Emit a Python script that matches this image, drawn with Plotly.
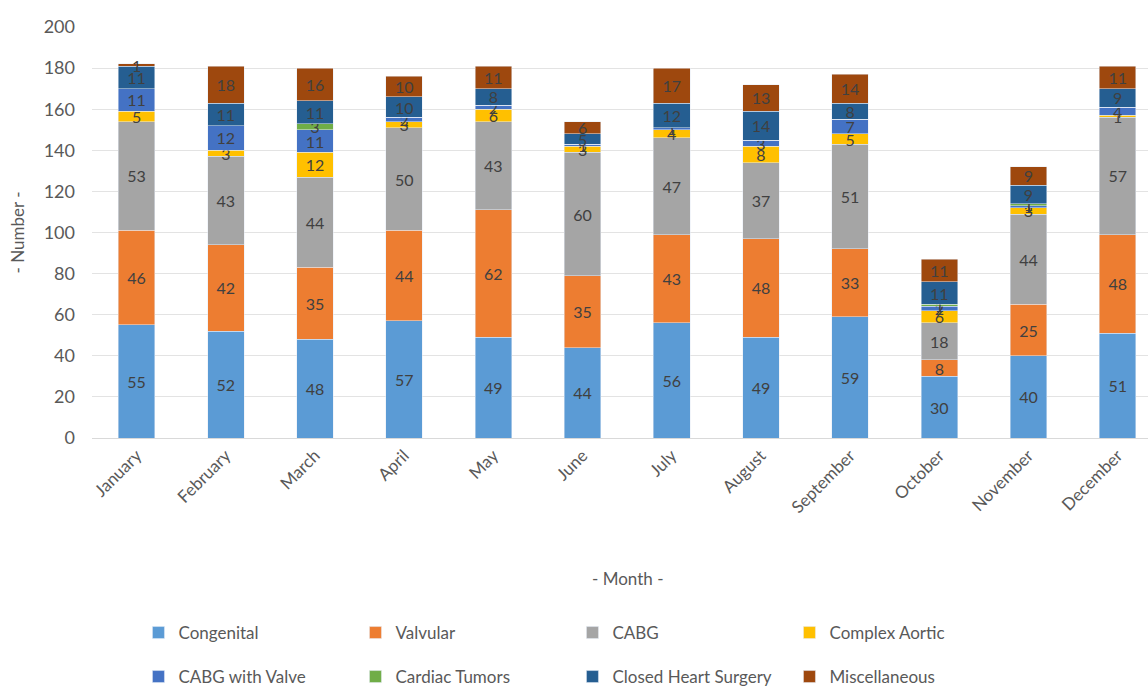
import plotly.graph_objects as go

months = ["January", "February", "March", "April", "May", "June", "July",
          "August", "September", "October", "November", "December"]

congenital = [55, 52, 48, 57, 49, 44, 56, 49, 59, 30, 40, 51]
valvular = [46, 42, 35, 44, 62, 35, 43, 48, 33, 8, 25, 48]
cabg = [53, 43, 44, 50, 43, 60, 47, 37, 51, 18, 44, 57]
complex_aortic = [5, 3, 12, 3, 6, 3, 4, 8, 5, 6, 3, 1]
cabg_with_valve = [11, 12, 11, 2, 2, 1, 1, 3, 7, 2, 1, 4]
cardiac_tumors = [0, 0, 3, 0, 0, 0, 0, 0, 0, 1, 1, 0]
closed_heart = [11, 11, 11, 10, 8, 5, 12, 14, 8, 11, 9, 9]
miscellaneous = [1, 18, 16, 10, 11, 6, 17, 13, 14, 11, 9, 11]

series = [
    ("Congenital", congenital, "#5B9BD5", "legend"),
    ("Valvular", valvular, "#ED7D31", "legend"),
    ("CABG", cabg, "#A5A5A5", "legend"),
    ("Complex Aortic", complex_aortic, "#FFC000", "legend"),
    ("CABG with Valve", cabg_with_valve, "#4472C4", "legend2"),
    ("Cardiac Tumors", cardiac_tumors, "#70AD47", "legend2"),
    ("Closed Heart Surgery", closed_heart, "#255E91", "legend2"),
    ("Miscellaneous", miscellaneous, "#9E480E", "legend2"),
]

FONT = "Lato"
GRAY = "#595959"

fig = go.Figure()
for name, vals, color, lg in series:
    fig.add_trace(go.Bar(
        x=months, y=vals, name=name, marker_color=color, width=0.41,
        text=[str(v) if v > 0 else "" for v in vals],
        textposition="inside", insidetextanchor="middle", textangle=0,
        constraintext="none",
        textfont=dict(family=FONT, size=16, color="#404040"),
        legend=lg,
    ))

leg_common = dict(orientation="h", xanchor="left", yanchor="middle",
                  x=0.044, yref="container", entrywidth=172,
                  entrywidthmode="pixels",
                  font=dict(family=FONT, size=17, color=GRAY),
                  bgcolor="rgba(0,0,0,0)", traceorder="normal")

fig.update_layout(
    width=1148, height=686,
    margin=dict(l=92, r=0, t=27, b=248),
    barmode="stack",
    plot_bgcolor="white", paper_bgcolor="white",
    font=dict(family=FONT, color=GRAY),
    uniformtext=dict(minsize=16, mode="show"),
    legend=dict(y=(686 - 633) / 686, **leg_common),
    legend2=dict(y=(686 - 677) / 686, **leg_common),
    xaxis=dict(range=[-0.5, 11.34], tickangle=-45,
               tickfont=dict(family=FONT, size=17, color=GRAY),
               showline=True, linecolor="#D9D9D9", ticks=""),
    yaxis=dict(range=[0, 200], dtick=20, gridcolor="#E3E3E3",
               tickfont=dict(family=FONT, size=18, color=GRAY),
               ticklabelstandoff=16, zeroline=False),
    annotations=[
        dict(text="- Month -", x=(627 - 92) / 1056, y=-(578 - 438) / 411,
             xref="paper", yref="paper", xanchor="center", yanchor="middle",
             showarrow=False, font=dict(family=FONT, size=17, color=GRAY)),
        dict(text="- Number -", x=-(92 - 17) / 1056, y=0.5,
             xref="paper", yref="paper", xanchor="center", yanchor="middle",
             showarrow=False, textangle=-90,
             font=dict(family=FONT, size=17, color=GRAY)),
    ],
)

fig.write_html("out.html")
